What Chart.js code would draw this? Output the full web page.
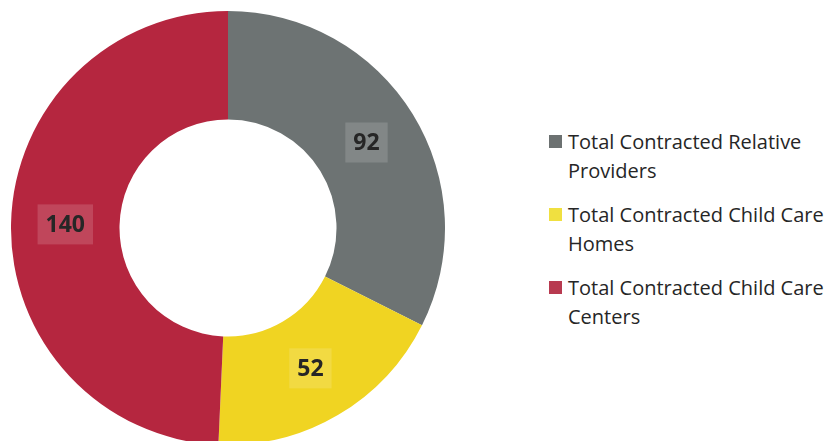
<!DOCTYPE html>
<html>
<head>
<meta charset="utf-8">
<script src="https://cdn.jsdelivr.net/npm/chart.js@4.4.1/dist/chart.umd.min.js"></script>
<style>
  html, body { margin: 0; padding: 0; background: #fff; overflow: hidden; }
  body { width: 834px; height: 441px; position: relative; }
  #chart-wrap { position: absolute; left: 11px; top: 11px; width: 434px; height: 434px; }
  #legend { position: absolute; left: 549px; top: 127px; width: 285px;
    font-family: "Open Sans", sans-serif; font-size: 20px; color: #262626; }
  .leg-item { position: relative; padding-left: 19px; line-height: 29px; margin-bottom: 15px; }
  .leg-box { position: absolute; left: 0; top: 8px; width: 13px; height: 13px; }
</style>
</head>
<body>
<div id="chart-wrap"><canvas id="donut"></canvas></div>
<div id="legend"></div>
<script>
// valores
const categories = [
  ["Total Contracted Relative", "Providers"],
  ["Total Contracted Child Care", "Homes"],
  ["Total Contracted Child Care", "Centers"],
];
const counts = [92, 52, 140];
const sliceColors = ["#6d7373", "#f0d422", "#b5263f"];
const legendColors = ["#6c7171", "#f0e040", "#b83a50"];

// etiquetas con caja sobre cada porción
const boxLabels = {
  id: "boxLabels",
  afterDatasetsDraw(chart) {
    const { ctx } = chart;
    const meta = chart.getDatasetMeta(0);
    ctx.save();
    ctx.font = "bold 23px 'Open Sans', sans-serif";
    ctx.textAlign = "center";
    ctx.textBaseline = "middle";
    meta.data.forEach((arc, i) => {
      const p = arc.tooltipPosition();
      const txt = String(chart.data.datasets[0].data[i]);
      const w = ctx.measureText(txt).width + 16;
      const h = 40;
      ctx.fillStyle = "rgba(255,255,255,0.15)";
      ctx.fillRect(p.x - w / 2, p.y - h / 2, w, h);
      ctx.fillStyle = "#262626";
      ctx.fillText(txt, p.x, p.y + 1);
    });
    ctx.restore();
  },
};

const chart = new Chart(document.getElementById("donut"), {
  type: "doughnut",
  data: {
    labels: categories,
    datasets: [
      {
        data: counts,
        backgroundColor: sliceColors,
        borderWidth: 0,
      },
    ],
  },
  options: {
    responsive: true,
    maintainAspectRatio: false,
    animation: false,
    cutout: "50%",
    layout: { padding: 0 },
    plugins: {
      legend: { display: false },
      tooltip: { enabled: false },
    },
  },
  plugins: [boxLabels],
});

// leyenda HTML
const legendEl = document.getElementById("legend");
categories.forEach((lines, i) => {
  const item = document.createElement("div");
  item.className = "leg-item";
  const box = document.createElement("span");
  box.className = "leg-box";
  box.style.background = legendColors[i];
  item.appendChild(box);
  const txt = document.createElement("span");
  txt.innerHTML = lines.join("<br>");
  item.appendChild(txt);
  legendEl.appendChild(item);
});
</script>
</body>
</html>
